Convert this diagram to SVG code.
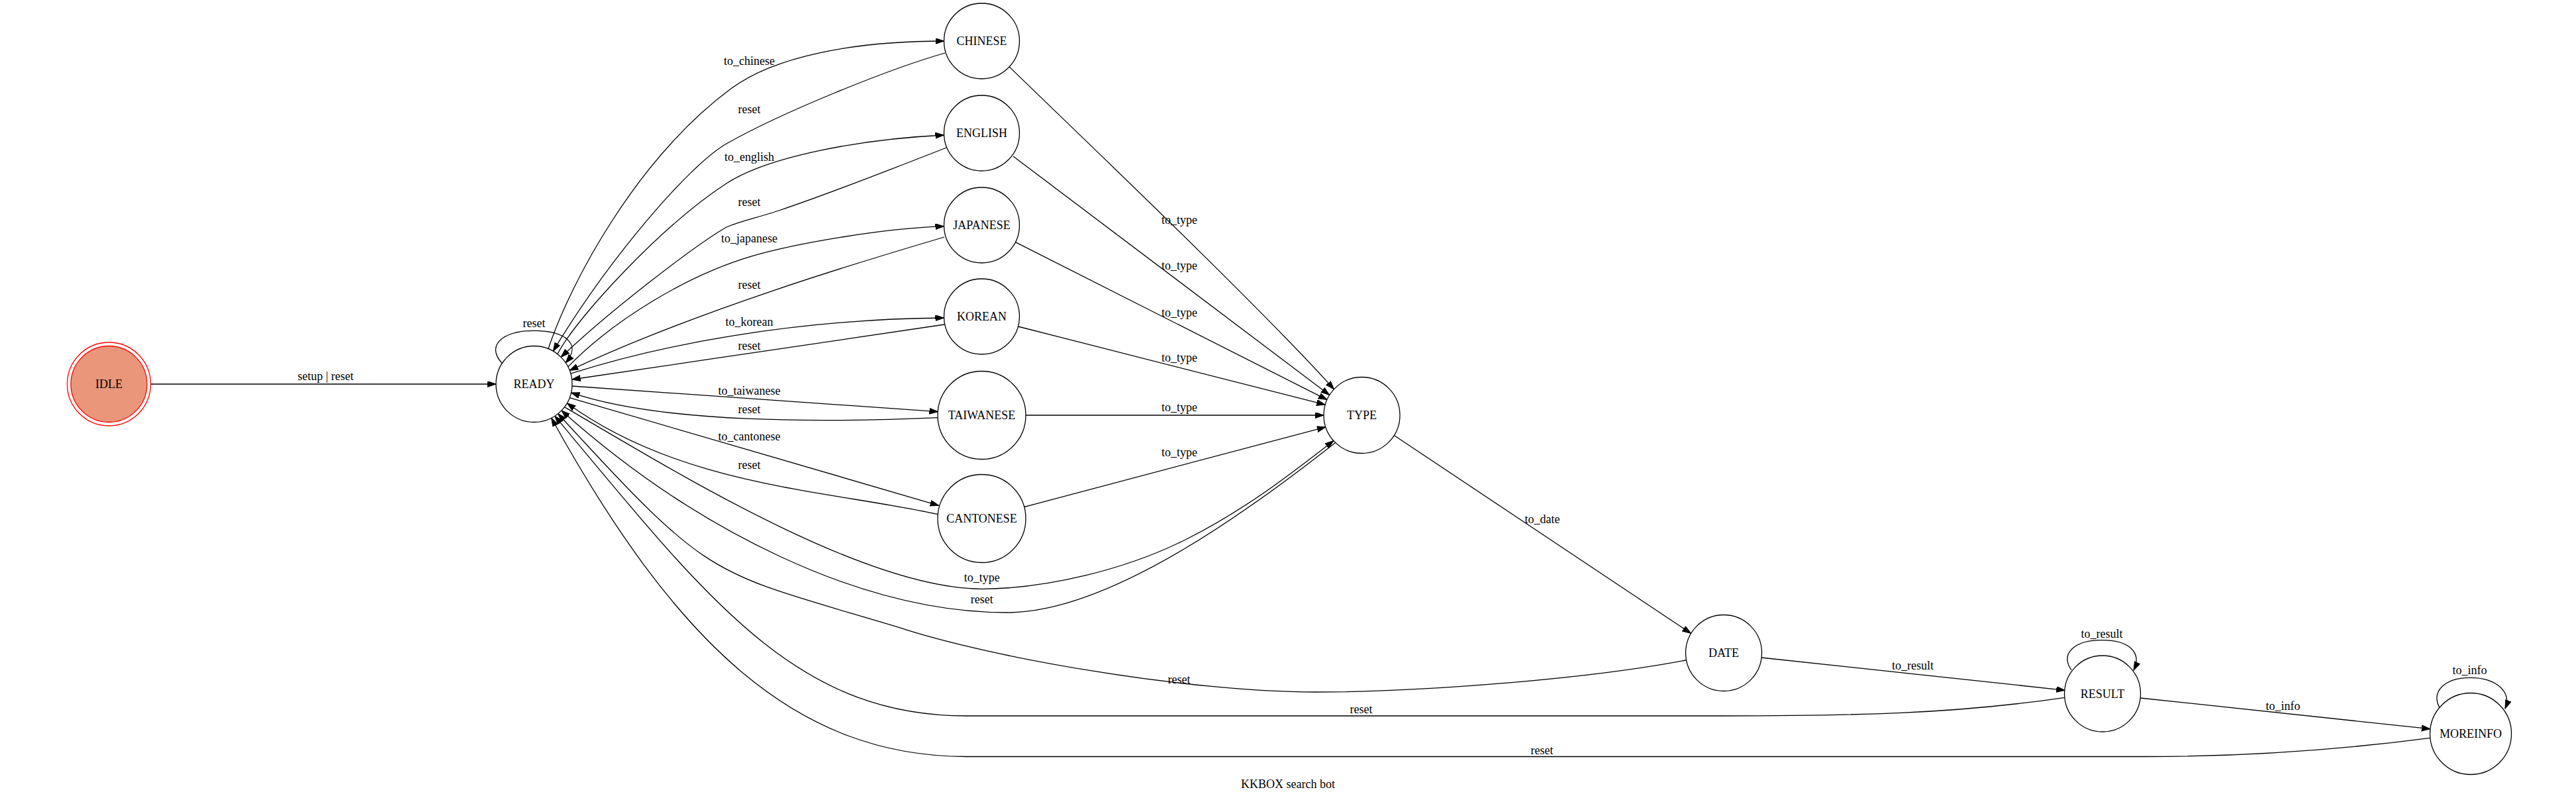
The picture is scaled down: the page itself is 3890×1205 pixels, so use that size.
<svg xmlns="http://www.w3.org/2000/svg" width="3890" height="1205" viewBox="0 0 3890 1205">
<defs>
<style>
text{font-family:"Liberation Serif","Times New Roman",serif;font-size:18px;fill:#000;text-anchor:middle}
.node circle{fill:#fff;stroke:#000;stroke-width:1.3}
#node-IDLE circle{fill:#e9967a;stroke:#ff0000;stroke-width:1.3}
#node-IDLE circle.outer{fill:none}
.edge path{fill:none;stroke:#000;stroke-width:1.3;marker-end:url(#arr)}
</style>
<marker id="arr" markerWidth="14" markerHeight="10" refX="13" refY="4.5" orient="auto" markerUnits="userSpaceOnUse">
<path d="M0,0 L13,4.5 L0,9 z" fill="#000" stroke="#000" stroke-width="1"/>
</marker>
</defs>
<rect width="3890" height="1205" fill="#fff"/>

<g id="edges">
<g class="edge" id="e-idle-ready"><path d="M227.5,580 L749,580"/><text x="491.7" y="574">setup | reset</text></g>
<g class="edge" id="e-ready-ready"><path d="M758.3,548.7 C732,520 762,499.3 806.5,499.3 C851,499.3 880,518 854.2,547.9"/><text x="806.5" y="494">reset</text></g>

<g class="edge" id="e-ready-chinese"><path d="M828,526.7 C860,430 960,240 1104.7,133.3 C1170,85 1290,62 1425.5,62"/><text x="1131.5" y="98">to_chinese</text></g>
<g class="edge" id="e-chinese-ready"><path d="M1427,80 C1340,105 1180,170 1097,217 C1040,250 920,390 835.3,530.2"/><text x="1131.5" y="171">reset</text></g>
<g class="edge" id="e-ready-english"><path d="M841.9,534.7 C870,480 1000,340 1097,277 C1160,236 1300,210 1425.5,204"/><text x="1131.5" y="243">to_english</text></g>
<g class="edge" id="e-english-ready"><path d="M1429,223 C1340,258 1230,300 1176,318 C1140,330 1120,333 1097,343 C1050,370 920,470 847.2,539.3"/><text x="1131.5" y="310.5">reset</text></g>
<g class="edge" id="e-ready-japanese"><path d="M857.7,553.9 C930,480 1040,415 1136,386.7 C1200,368 1330,345 1425.5,341.7"/><text x="1131.5" y="365.7">to_japanese</text></g>
<g class="edge" id="e-japanese-ready"><path d="M1426,358 C1300,395 1050,470 860.2,559.4"/><text x="1131.5" y="435.5">reset</text></g>
<g class="edge" id="e-ready-korean"><path d="M861.8,564.2 C1000,520 1200,482 1425.5,480"/><text x="1131.5" y="492">to_korean</text></g>
<g class="edge" id="e-korean-ready"><path d="M1426.2,490 C1300,510 1050,545 863.6,573"/><text x="1131.5" y="528">reset</text></g>
<g class="edge" id="e-ready-taiwanese"><path d="M863.9,583 L1416.4,621.7"/><text x="1131.5" y="595.5">to_taiwanese</text></g>
<g class="edge" id="e-taiwanese-ready"><path d="M1416.4,630.7 C1250,638 1000,640 862.5,592.9"/><text x="1131.5" y="624">reset</text></g>
<g class="edge" id="e-ready-cantonese"><path d="M860.2,600.6 L1417.6,763.3"/><text x="1131.5" y="664.5">to_cantonese</text></g>
<g class="edge" id="e-cantonese-ready"><path d="M1416.4,776.7 C1250,740 1030,735 856.3,608.75"/><text x="1131.5" y="708">reset</text></g>

<g class="edge" id="e-chinese-type"><path d="M1524.2,100.9 C1600,175 1900,460 2014.5,587.8"/><text x="1781" y="338">to_type</text></g>
<g class="edge" id="e-english-type"><path d="M1530,236 L2007.7,596.5"/><text x="1781" y="407">to_type</text></g>
<g class="edge" id="e-japanese-type"><path d="M1533.4,365.7 L2004,603.6"/><text x="1781" y="477.5">to_type</text></g>
<g class="edge" id="e-korean-type"><path d="M1537.5,493 L2001.2,611.2"/><text x="1781" y="546">to_type</text></g>
<g class="edge" id="e-taiwanese-type"><path d="M1549,627 L1999,627"/><text x="1781" y="621">to_type</text></g>
<g class="edge" id="e-cantonese-type"><path d="M1546.7,765.5 L2001.8,644.8"/><text x="1781" y="689">to_type</text></g>

<g class="edge" id="e-ready-type"><path d="M852.4,614.6 C1000,700 1300,889 1482.7,889.3 C1580,889 1700,860 1790,815 C1880,770 1950,715 2013.8,665.5"/><text x="1482.7" y="877.5">to_type</text></g>
<g class="edge" id="e-type-ready"><path d="M2016.5,668.4 C1900,760 1680,925 1521,925 C1300,925 1050,800 847.9,619.9"/><text x="1482.7" y="910.5">reset</text></g>
<g class="edge" id="e-type-date"><path d="M2105.3,657.5 L2553.5,956.4"/><text x="2329" y="790">to_date</text></g>
<g class="edge" id="e-date-ready"><path d="M2546.5,996.8 C2400,1025 2150,1045 1985.7,1045 C1800,1045 1500,995 1355,946.7 C1068,860.6 1079,882.3 842.7,624.7"/><text x="1780.5" y="1031.5">reset</text></g>
<g class="edge" id="e-date-result"><path d="M2659.6,993 L3118.2,1042.3"/><text x="2888.6" y="1010.5">to_result</text></g>
<g class="edge" id="e-result-result"><path d="M3128,1012 C3110,985 3135,966.7 3174,966.7 C3215,966.7 3235,985 3222,1012"/><text x="3174" y="962.5">to_result</text></g>
<g class="edge" id="e-result-ready"><path d="M3118.2,1053.3 C2950,1078 2800,1081 2600,1081 L1460,1081 C1202,1081 1072,909.3 837.8,628.2"/><text x="2055.4" y="1076.5">reset</text></g>
<g class="edge" id="e-result-moreinfo"><path d="M3232.2,1054 L3669.8,1100.7"/><text x="3447.4" y="1071.5">to_info</text></g>
<g class="edge" id="e-moreinfo-moreinfo"><path d="M3686,1072 C3668,1045 3692,1023.3 3730,1023.3 C3770,1023.3 3793,1045 3783,1070"/><text x="3729.6" y="1018">to_info</text></g>
<g class="edge" id="e-moreinfo-ready"><path d="M3669.8,1114.3 C3550,1130 3400,1142.5 3237.8,1142.5 L1460,1142.5 C1200,1142.5 1020,970 832.6,631.2"/><text x="2328.4" y="1139">reset</text></g>
</g>

<g id="node-IDLE" class="node"><circle class="outer" cx="164.5" cy="580" r="63"/><circle cx="164.5" cy="580" r="57.5"/><text x="164.5" y="586">IDLE</text></g>
<g id="node-READY" class="node"><circle cx="806.5" cy="580" r="57.5"/><text x="806.5" y="586">READY</text></g>
<g id="node-CHINESE" class="node"><circle cx="1482.5" cy="62" r="57"/><text x="1482.5" y="68">CHINESE</text></g>
<g id="node-ENGLISH" class="node"><circle cx="1482.5" cy="201" r="57"/><text x="1482.5" y="207">ENGLISH</text></g>
<g id="node-JAPANESE" class="node"><circle cx="1482.5" cy="340" r="57"/><text x="1482.5" y="346">JAPANESE</text></g>
<g id="node-KOREAN" class="node"><circle cx="1482.5" cy="478" r="57"/><text x="1482.5" y="484">KOREAN</text></g>
<g id="node-TAIWANESE" class="node"><circle cx="1482.5" cy="627" r="66.5"/><text x="1482.5" y="633">TAIWANESE</text></g>
<g id="node-CANTONESE" class="node"><circle cx="1482.5" cy="783" r="66.5"/><text x="1482.5" y="789">CANTONESE</text></g>
<g id="node-TYPE" class="node"><circle cx="2056.5" cy="627" r="57.5"/><text x="2056.5" y="633">TYPE</text></g>
<g id="node-DATE" class="node"><circle cx="2603" cy="986" r="57.5"/><text x="2603" y="992">DATE</text></g>
<g id="node-RESULT" class="node"><circle cx="3175" cy="1047.5" r="57.5"/><text x="3175" y="1053.5">RESULT</text></g>
<g id="node-MOREINFO" class="node"><circle cx="3731" cy="1108" r="61.5"/><text x="3731" y="1114">MOREINFO</text></g>

<text id="title" x="1945" y="1190">KKBOX search bot</text>
</svg>
